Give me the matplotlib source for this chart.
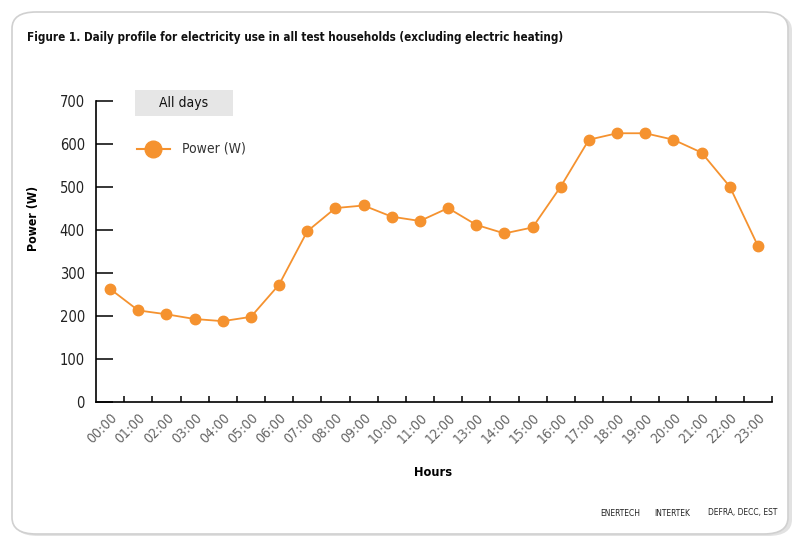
import matplotlib
matplotlib.use("Agg")
import matplotlib.pyplot as plt
from matplotlib.patches import FancyBboxPatch
from matplotlib.lines import Line2D
from matplotlib import font_manager as fm

hours = ["00:00", "01:00", "02:00", "03:00", "04:00", "05:00", "06:00", "07:00",
         "08:00", "09:00", "10:00", "11:00", "12:00", "13:00", "14:00", "15:00",
         "16:00", "17:00", "18:00", "19:00", "20:00", "21:00", "22:00", "23:00"]
power = [263, 213, 204, 193, 188, 198, 273, 397, 451, 457, 431, 421,
         451, 412, 392, 406, 501, 610, 625, 625, 610, 580, 501, 363]
y_ticks = [0, 100, 200, 300, 400, 500, 600, 700]

names = {f.name for f in fm.fontManager.ttflist}
FAM = "Liberation Sans Narrow" if "Liberation Sans Narrow" in names else "DejaVu Sans"
plt.rcParams["font.family"] = [FAM, "DejaVu Sans"]
plt.rcParams["font.stretch"] = "condensed"

ORANGE = "#f5922f"
W, H = 806, 548
fig = plt.figure(figsize=(W / 100, H / 100), dpi=100)

# card with soft shadow
shadow = FancyBboxPatch((14 / W, 12 / H), (790 - 12) / W, (536 - 14) / H,
                        boxstyle="round,pad=0,rounding_size=0.03",
                        transform=fig.transFigure, facecolor="#e2e2e2",
                        edgecolor="none", zorder=-11)
fig.patches.append(shadow)
card = FancyBboxPatch((12 / W, 14 / H), (788 - 12) / W, (536 - 14) / H,
                      boxstyle="round,pad=0,rounding_size=0.03",
                      transform=fig.transFigure, facecolor="white",
                      edgecolor="#d0d0d0", linewidth=1.2, zorder=-10)
fig.patches.append(card)

fig.text(27 / W, 1 - 38 / H,
         "Figure 1. Daily profile for electricity use in all test households (excluding electric heating)",
         fontsize=8.4, fontweight="bold", ha="left", va="center", color="#111111")

ax = fig.add_axes([96 / W, 1 - 402 / H, (772 - 96) / W, (402 - 101) / H])
ax.set_facecolor("none")
ax.set_zorder(5)
x = list(range(len(hours)))
ax.plot(x, power, color=ORANGE, lw=1.3, marker="o", markersize=7.5,
        markerfacecolor=ORANGE, markeredgecolor=ORANGE, zorder=3, clip_on=False)
ax.set_xlim(-0.5, len(hours) - 0.5)
ax.set_ylim(0, 700)

for s in ["top", "right"]:
    ax.spines[s].set_visible(False)
for s in ["left", "bottom"]:
    ax.spines[s].set_linewidth(1.2)
    ax.spines[s].set_color("black")

ax.set_yticks(y_ticks)
ax.set_yticklabels([str(v) for v in y_ticks])
ax.tick_params(axis="y", direction="in", length=12, width=1.1, pad=8,
               labelsize=10.5, labelcolor="#222222")

ax.set_xticks([i + 0.5 for i in x])
ax.set_xticklabels([])
ax.tick_params(axis="x", which="major", direction="in", length=4.5, width=1.1)
ax.set_xticks(x, minor=True)
ax.set_xticklabels(hours, minor=True, rotation=45, ha="right", va="top",
                   rotation_mode="anchor", fontsize=10, color="#666666")
ax.tick_params(axis="x", which="minor", length=0, pad=6)

ax.set_ylabel("Power (W)", fontsize=8.8, fontweight="bold")
ax.yaxis.set_label_coords(-0.083, 0.611)
fig.text(433 / W, 1 - 472 / H, "Hours", fontsize=9.2, fontweight="bold",
         ha="center", va="center")

# legend-like annotations
fig.patches.append(FancyBboxPatch((135 / W, 1 - 116 / H), 98 / W, 26 / H,
                                  boxstyle="square,pad=0", transform=fig.transFigure,
                                  facecolor="#e6e6e6", edgecolor="none", zorder=1))
fig.text(184 / W, 1 - 103 / H, "All days", fontsize=10, ha="center", va="center",
         color="#111111", zorder=2)
fig.add_artist(Line2D([137 / W, 170 / W], [1 - 149 / H, 1 - 149 / H],
                      transform=fig.transFigure, color=ORANGE, lw=1.5))
fig.add_artist(Line2D([153 / W], [1 - 149 / H], transform=fig.transFigure,
                      marker="o", markersize=12, color=ORANGE))
fig.text(182 / W, 1 - 149 / H, "Power (W)", fontsize=10, ha="left", va="center",
         color="#333333")

for xx, t in [(600, "ENERTECH"), (654, "INTERTEK"), (708, "DEFRA, DECC, EST")]:
    fig.text(xx / W, 1 - 513 / H, t, fontsize=6, ha="left", va="center",
             color="#222222")

fig.savefig("out.png", dpi=100)
